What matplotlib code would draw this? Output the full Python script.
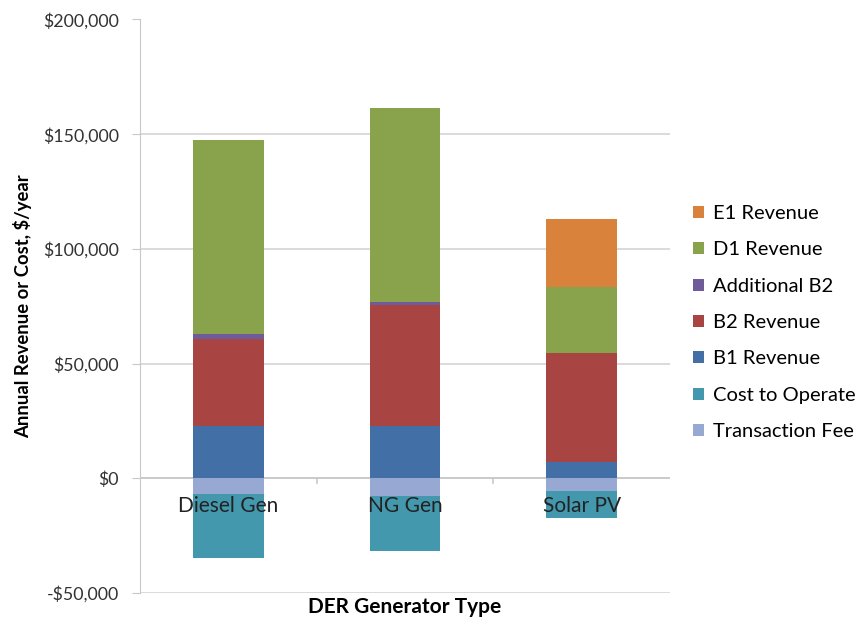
import matplotlib
matplotlib.use("Agg")
import matplotlib.pyplot as plt
from matplotlib.ticker import FuncFormatter
from matplotlib.patches import Patch
import numpy as np

plt.rcParams['font.family'] = ['Lato', 'DejaVu Sans']

categories = ["Diesel Gen", "NG Gen", "Solar PV"]
b1_revenue = [22600, 22600, 7250]
b2_revenue = [38140, 52920, 47230]
additional_b2 = [2170, 1310, 0]
d1_revenue = [84500, 84770, 29000]
e1_revenue = [0, 0, 29420]
transaction_fee = [-7000, -7800, -5350]
cost_to_operate = [-27650, -23800, -11750]

yticks = [-50000, 0, 50000, 100000, 150000, 200000]

colors = {
    "E1 Revenue": "#D8823B",
    "D1 Revenue": "#88A34C",
    "Additional B2": "#6F5A9A",
    "B2 Revenue": "#A84543",
    "B1 Revenue": "#4270A6",
    "Cost to Operate": "#4398AE",
    "Transaction Fee": "#97A9D3",
}

fig = plt.figure(figsize=(8.64, 6.2), dpi=100)
ax = fig.add_axes([140/864, 1-593/620, 530/864, (593-19.5)/620])

x = np.arange(len(categories))
w = 0.4
pos_series = [("B1 Revenue", b1_revenue), ("B2 Revenue", b2_revenue),
              ("Additional B2", additional_b2), ("D1 Revenue", d1_revenue),
              ("E1 Revenue", e1_revenue)]
bottom = np.zeros(len(categories))
for name, vals in pos_series:
    v = np.array(vals, dtype=float)
    ax.bar(x, v, w, bottom=bottom, color=colors[name], zorder=2, linewidth=0)
    bottom += v
nbottom = np.zeros(len(categories))
for name, vals in [("Transaction Fee", transaction_fee), ("Cost to Operate", cost_to_operate)]:
    v = np.array(vals, dtype=float)
    ax.bar(x, v, w, bottom=nbottom, color=colors[name], zorder=2, linewidth=0)
    nbottom += v

ax.set_xlim(-0.5, 2.5)
ax.set_ylim(-50000, 200000)
ax.set_yticks(yticks)
ax.yaxis.set_major_formatter(FuncFormatter(lambda v, p: ("-$" if v < 0 else "$") + f"{abs(int(v)):,}"))
ax.grid(axis='y', color='#D4D4D4', linewidth=1.2, zorder=0)
ax.set_axisbelow(True)
for s in ['top', 'right', 'bottom']:
    ax.spines[s].set_visible(False)
ax.spines['left'].set_color('#C8C8C8')
ax.tick_params(axis='y', colors='#C8C8C8', labelcolor='#333333', labelsize=12.8, length=6, pad=9)
ax.set_xticks([])

# zero axis line with category boundary ticks
ax.axhline(0, color='#C8C8C8', linewidth=1.2, zorder=1)
for b in [0.5, 1.5]:
    ax.plot([b, b], [0, -2000], color='#C8C8C8', linewidth=1.2, zorder=1)

for xi, c in zip(x, categories):
    ax.text(xi, -7600, c, ha='center', va='top', fontsize=15, color='#222222', zorder=5)

ax.set_ylabel("Annual Revenue or Cost, $/year", fontsize=13.3, fontweight='bold', labelpad=8)
fig.text((140+670)/2/864, 1-607/620, "DER Generator Type", ha='center', va='center',
         fontsize=15, fontweight='bold')

legend_order = ["E1 Revenue", "D1 Revenue", "Additional B2", "B2 Revenue",
                "B1 Revenue", "Cost to Operate", "Transaction Fee"]
handles = [Patch(facecolor=colors[n], edgecolor='none') for n in legend_order]
fig.legend(handles, legend_order, loc='upper left', bbox_to_anchor=(685/864, 1-197/620),
           frameon=False, fontsize=14.5, handlelength=0.55, handleheight=0.55,
           handletextpad=0.45, labelspacing=0.96, borderaxespad=0)

fig.savefig("out.png", dpi=100)
